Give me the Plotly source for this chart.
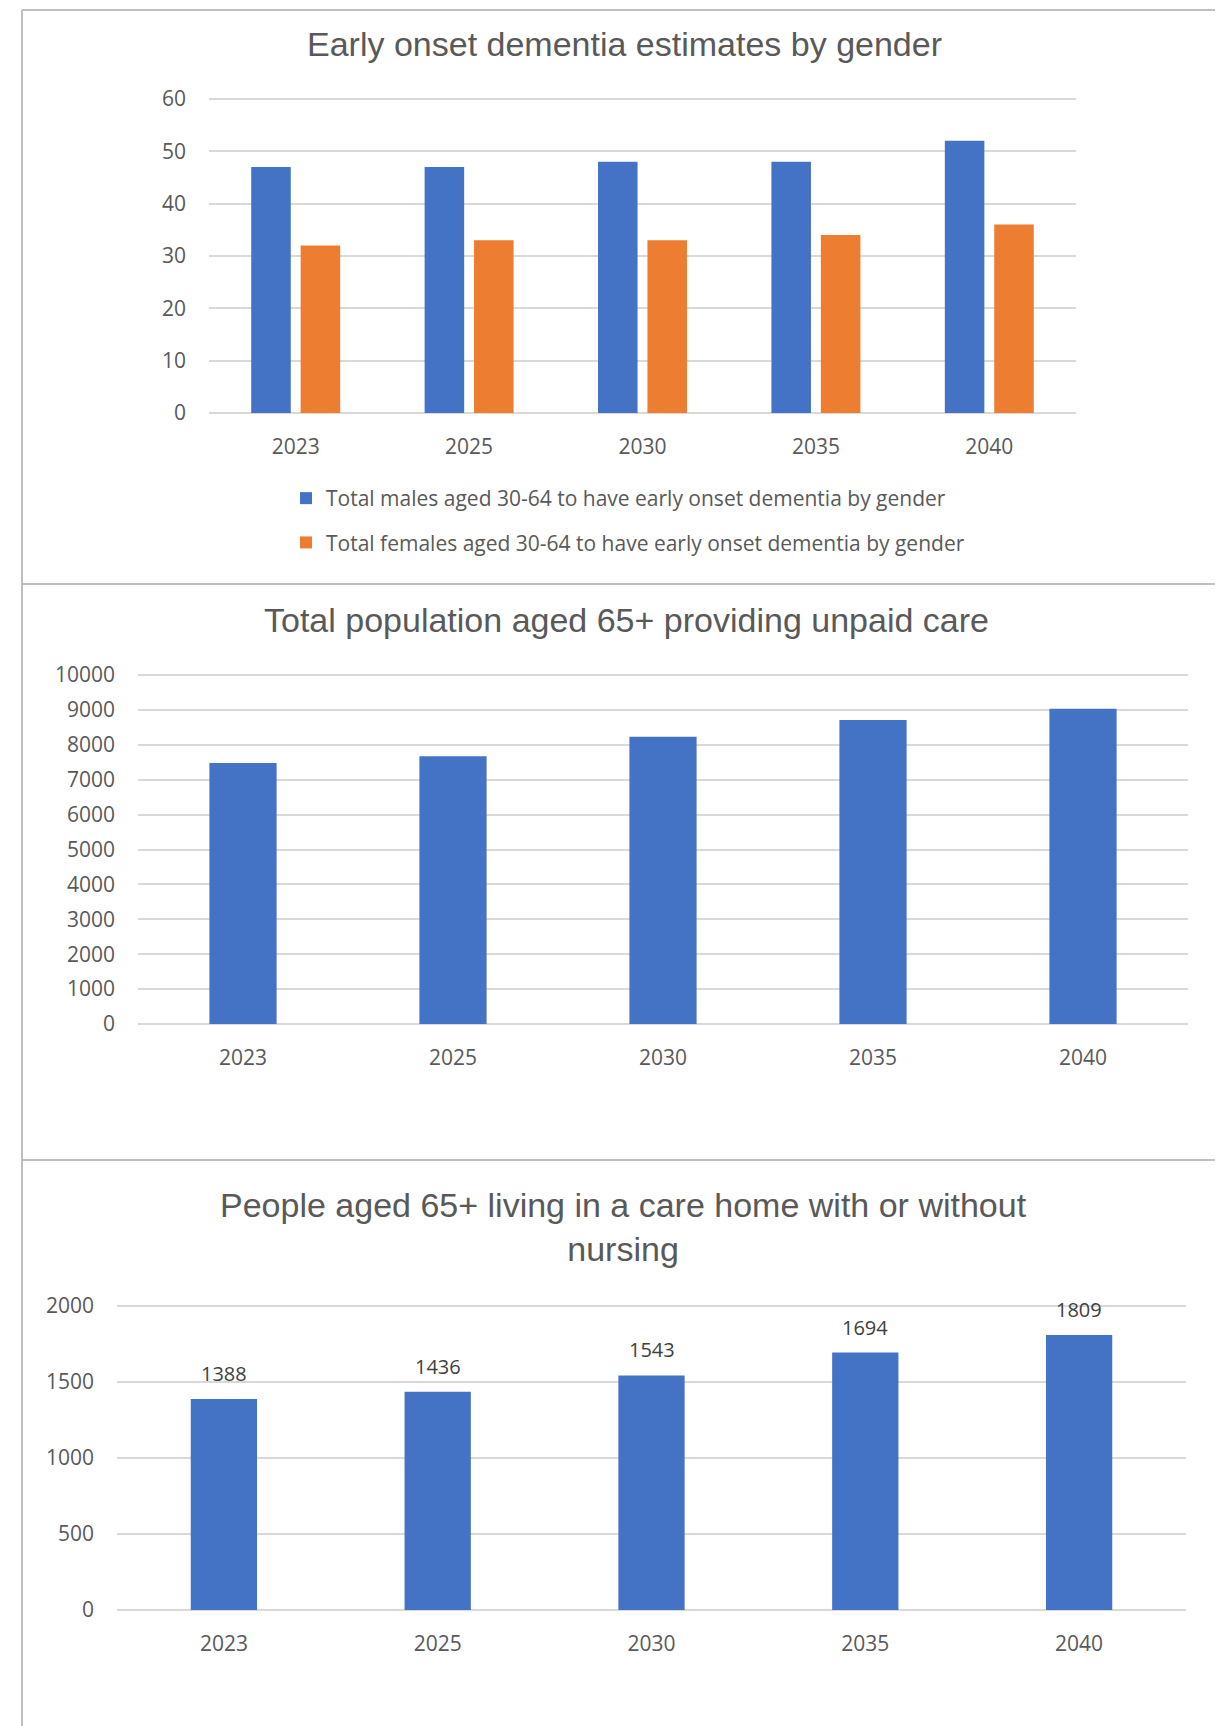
import plotly.graph_objects as go

# the page body keeps its 8px default margin, so the figure is drawn 8px in
PAGE_W, PAGE_H = 1223, 1726
OFF = 8
W, H = PAGE_W - OFF, PAGE_H - OFF

years = ["2023", "2025", "2030", "2035", "2040"]

# early onset dementia, aged 30-64
males_early = [47, 47, 48, 48, 52]
females_early = [32, 33, 33, 34, 36]

# 65+ providing unpaid care
unpaid_care = [7480, 7670, 8230, 8710, 9030]

# 65+ living in a care home
care_home = [1388, 1436, 1543, 1694, 1809]

BLUE = "#4472C4"
ORANGE = "#ED7D31"
TXT = "#595959"
GRID = "#D9D9D9"
BORDER = "#C0C0C0"
TICK_FONT = "Open Sans, Segoe UI, sans-serif"
TITLE_FONT = "Liberation Sans, Arial, sans-serif"
PAD = 0.02  # headroom so plotly keeps the top gridline


def px_x(x):
    # page pixel -> paper fraction
    return (x - OFF) / W


def px_y(y):
    return (PAGE_H - y) / H


def y_axis(zero_px, top_px, top_val, dtick):
    top = zero_px - (zero_px - top_px) * (1 + PAD)
    return dict(domain=[px_y(zero_px), px_y(top)], range=[0, top_val * (1 + PAD)], dtick=dtick)


fig = go.Figure()

fig.add_trace(go.Bar(
    x=years, y=males_early, name="Total males aged 30-64 to have early onset dementia by gender",
    marker=dict(color=BLUE, line=dict(width=0)), xaxis="x", yaxis="y", legendgroup="m",
))
fig.add_trace(go.Bar(
    x=years, y=females_early, name="Total females aged 30-64 to have early onset dementia by gender",
    marker=dict(color=ORANGE, line=dict(width=0)), xaxis="x", yaxis="y", legendgroup="f",
))
fig.add_trace(go.Bar(
    x=years, y=unpaid_care, marker=dict(color=BLUE, line=dict(width=0)),
    xaxis="x2", yaxis="y2", showlegend=False, width=0.32,
))
fig.add_trace(go.Bar(
    x=years, y=care_home, marker=dict(color=BLUE, line=dict(width=0)),
    xaxis="x3", yaxis="y3", showlegend=False, width=0.31,
))

# value labels over the care home bars (x given as category index)
for i, v in enumerate(care_home):
    fig.add_annotation(x=i, y=v, xref="x3", yref="y3", text=str(v), showarrow=False,
                       yanchor="bottom", yshift=10,
                       font=dict(family=TICK_FONT, size=20, color="#404040"))

xaxis_common = dict(type="category", range=[-0.5, 4.5], showline=False, ticks="",
                    automargin=False, fixedrange=True,
                    tickfont=dict(family=TICK_FONT, size=21, color=TXT), ticklabelstandoff=19)
yaxis_common = dict(showline=False, ticks="", automargin=False, fixedrange=True,
                    tickfont=dict(family=TICK_FONT, size=21, color=TXT), ticklabelstandoff=22,
                    tickformat="d", showgrid=True, gridcolor=GRID, gridwidth=1.5,
                    zeroline=True, zerolinecolor=GRID, zerolinewidth=1.5)

fig.update_layout(
    width=W, height=H,
    margin=dict(l=0, r=0, t=0, b=0, autoexpand=False),
    paper_bgcolor="white", plot_bgcolor="white",
    barmode="group", bargap=0.43, bargroupgap=0.2,
    xaxis=dict(xaxis_common, domain=[px_x(209), px_x(1076)], anchor="y"),
    yaxis=dict(yaxis_common, anchor="x", **y_axis(413, 99, 60, 10)),
    xaxis2=dict(xaxis_common, domain=[px_x(138), px_x(1188)], anchor="y2"),
    yaxis2=dict(yaxis_common, anchor="x2", **y_axis(1024, 675, 10000, 1000)),
    xaxis3=dict(xaxis_common, domain=[px_x(117), px_x(1186)], anchor="y3"),
    yaxis3=dict(yaxis_common, anchor="x3", **y_axis(1610, 1306, 2000, 500)),
    showlegend=True,
    legend=dict(x=px_x(286), y=px_y(478), xanchor="left", yanchor="top",
                orientation="v", traceorder="grouped", tracegroupgap=14,
                font=dict(family=TICK_FONT, size=21, color=TXT), itemclick=False),
)

titles = [
    ("Early onset dementia estimates by gender", 624, 44),
    ("Total population aged 65+ providing unpaid care", 626, 620),
    ("People aged 65+ living in a care home with or without<br>nursing", 623, 1227),
]
for text, cx, cy in titles:
    fig.add_annotation(
        x=px_x(cx), y=px_y(cy), xref="paper", yref="paper", text=text, showarrow=False,
        xanchor="center", yanchor="middle",
        font=dict(family=TITLE_FONT, size=34, color=TXT),
    )

# panel borders
borders = [
    (22, 10, PAGE_W, 10), (22, 10, 22, PAGE_H), (1221, 10, 1221, 584),
    (22, 584, PAGE_W, 584), (22, 1160, PAGE_W, 1160),
]
for x0, y0, x1, y1 in borders:
    fig.add_shape(type="line", xref="paper", yref="paper",
                  x0=px_x(x0), y0=px_y(y0), x1=px_x(x1), y1=px_y(y1),
                  line=dict(color=BORDER, width=2))

fig.write_html("out.html")
